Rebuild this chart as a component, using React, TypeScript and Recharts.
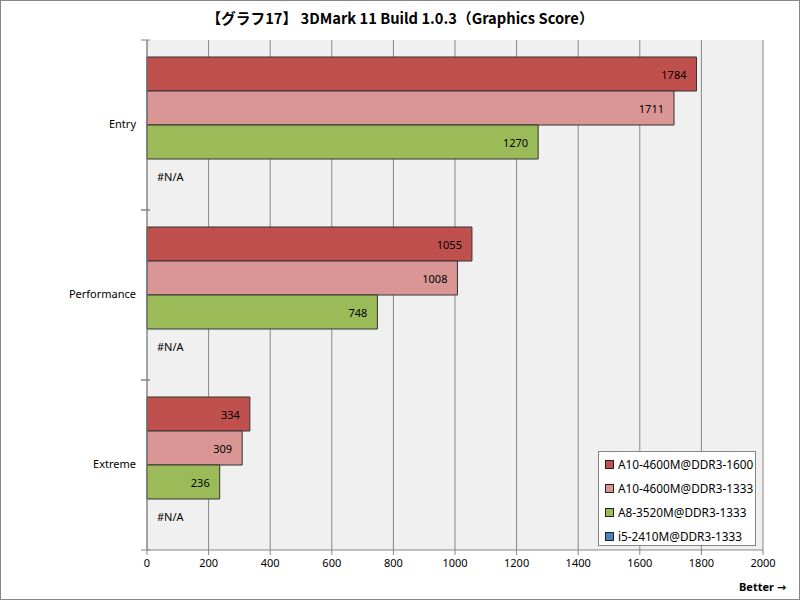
import React from "react";
import { BarChart, Bar, XAxis, YAxis, CartesianGrid, LabelList } from "recharts";

const categories = ["Entry", "Performance", "Extreme"];
const seriesNames = ["A10-4600M@DDR3-1600", "A10-4600M@DDR3-1333", "A8-3520M@DDR3-1333", "i5-2410M@DDR3-1333"];
const a10_1600 = [1784, 1055, 334];
const a10_1333 = [1711, 1008, 309];
const a8_1333 = [1270, 748, 236];
const i5_1333: (number | null)[] = [null, null, null];
const xTicks = [0, 200, 400, 600, 800, 1000, 1200, 1400, 1600, 1800, 2000];
const colors = ["#C0504D", "#D99694", "#9BBB59", "#4F81BD"];

const data = categories.map((name, i) => ({
  name,
  s0: a10_1600[i],
  s1: a10_1333[i],
  s2: a8_1333[i],
  s3: i5_1333[i],
}));

const FONT = "'Noto Sans', 'DejaVu Sans', sans-serif";

const ValueLabel = (props: any) => {
  const { x, y, width, height, value } = props;
  return (
    <text x={x + width - 10} y={y + height / 2} textAnchor="end" dominantBaseline="central" fontSize={11} fontFamily={FONT} fill="#000">
      {value}
    </text>
  );
};

// Green bar label also places the i5 (#N/A) label in the next bar slot
const LastLabel = (props: any) => {
  const { x, y, width, height, value, index } = props;
  const na = i5_1333[index] === null;
  return (
    <g>
      <text x={x + width - 10} y={y + height / 2} textAnchor="end" dominantBaseline="central" fontSize={11} fontFamily={FONT} fill="#000">
        {value}
      </text>
      {na && (
        <text x={x + 10} y={y + height * 1.5} textAnchor="start" dominantBaseline="central" fontSize={11} fontFamily={FONT} fill="#000">
          #N/A
        </text>
      )}
    </g>
  );
};

const YTick = (props: any) => {
  const { x, y, payload } = props;
  const ax = x + 11;
  return (
    <g>
      <line x1={ax - 6} x2={ax + 3} y1={y - 85} y2={y - 85} stroke="#868686" />
      <line x1={ax - 6} x2={ax + 3} y1={y + 85} y2={y + 85} stroke="#868686" />
      <text x={x} y={y - 2} textAnchor="end" dominantBaseline="central" fontSize={11} fontFamily={FONT} fill="#000">
        {payload.value}
      </text>
    </g>
  );
};

const LegendBox = () => (
  <div
    style={{
      position: "absolute",
      left: 598,
      top: 451,
      width: 158,
      height: 95,
      background: "#fff",
      border: "1px solid #868686",
      boxSizing: "border-box",
      fontFamily: FONT,
      fontSize: 11.8,
      color: "#000",
      paddingTop: 0,
    }}
  >
    {seriesNames.map((n, i) => (
      <div key={n} style={{ display: "flex", alignItems: "center", height: 24, paddingLeft: 6 }}>
        <span style={{ display: "inline-block", width: 7, height: 7, background: colors[i], border: "1px solid #222", marginRight: 4 }} />
        <span>{n}</span>
      </div>
    ))}
  </div>
);

export default function App() {
  return (
    <div style={{ position: "absolute", left: 0, top: 0, width: 800, height: 600, background: "#fff" }}>
      <BarChart
        width={800}
        height={600}
        data={data}
        layout="vertical"
        margin={{ top: 40, right: 37, left: 0, bottom: 0 }}
        barCategoryGap={17}
        barGap={0}
      >
        <CartesianGrid horizontal={false} vertical={true} fill="#F0F0F0" stroke="#868686" />
        <XAxis
          type="number"
          domain={[0, 2000]}
          ticks={xTicks}
          height={50}
          tickSize={5}
          tickMargin={4}
          stroke="#868686"
          tick={{ fontSize: 11, fontFamily: FONT, fill: "#000" }}
          interval={0}
        />
        <YAxis
          type="category"
          dataKey="name"
          width={147}
          stroke="#868686"
          tickLine={false}
          tickSize={5}
          tickMargin={6}
          tick={<YTick />}
        />
        <Bar dataKey="s0" name={seriesNames[0]} fill={colors[0]} stroke="#333" strokeWidth={1} isAnimationActive={false}>
          <LabelList dataKey="s0" content={<ValueLabel />} />
        </Bar>
        <Bar dataKey="s1" name={seriesNames[1]} fill={colors[1]} stroke="#333" strokeWidth={1} isAnimationActive={false}>
          <LabelList dataKey="s1" content={<ValueLabel />} />
        </Bar>
        <Bar dataKey="s2" name={seriesNames[2]} fill={colors[2]} stroke="#333" strokeWidth={1} isAnimationActive={false}>
          <LabelList dataKey="s2" content={<LastLabel />} />
        </Bar>
        <Bar dataKey="s3" name={seriesNames[3]} fill={colors[3]} stroke="#333" strokeWidth={1} isAnimationActive={false} />
      </BarChart>
      <LegendBox />
      <div
        style={{
          position: "absolute",
          left: 0,
          top: 7,
          width: 800,
          textAlign: "center",
          fontFamily: "'Noto Sans CJK JP', sans-serif",
          fontWeight: "bold",
          fontSize: 14.7,
          color: "#000",
          pointerEvents: "none",
        }}
      >
        【グラフ17】 3DMark 11 Build 1.0.3（Graphics Score）
      </div>
      <div
        style={{
          position: "absolute",
          left: 739,
          top: 579,
          fontFamily: FONT,
          fontWeight: "bold",
          fontSize: 11,
          color: "#000",
          pointerEvents: "none",
        }}
      >
        Better →
      </div>
      <div
        style={{
          position: "absolute",
          left: 0,
          top: 0,
          width: 800,
          height: 600,
          border: "1px solid #868686",
          boxSizing: "border-box",
          pointerEvents: "none",
        }}
      />
    </div>
  );
}
